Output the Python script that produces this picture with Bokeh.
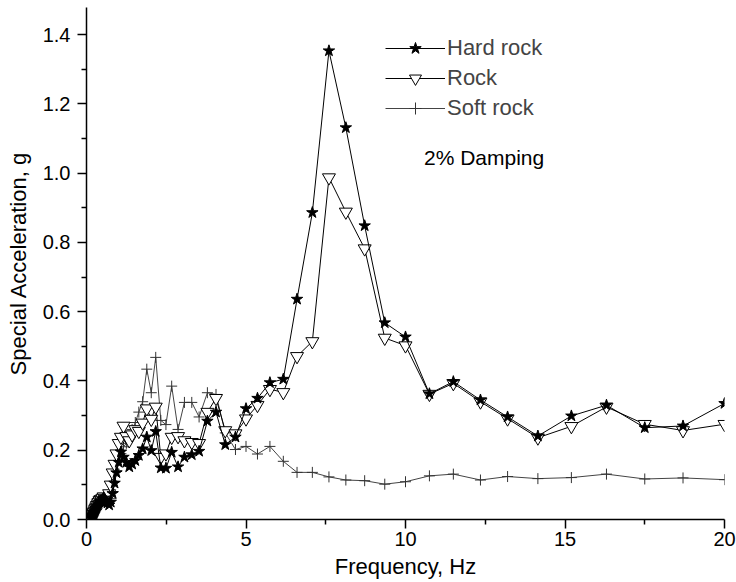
from bokeh.plotting import figure
from bokeh.models import Range1d, FixedTicker, PrintfTickFormatter, Legend, LegendItem, Label
from bokeh.embed import file_html
from bokeh.resources import INLINE

freq = [0.15, 0.16, 0.18, 0.19, 0.20, 0.22, 0.23, 0.25, 0.27, 0.29,
        0.31, 0.33, 0.36, 0.38, 0.41, 0.44, 0.47, 0.50, 0.54, 0.58,
        0.62, 0.66, 0.71, 0.76, 0.82, 0.88, 0.94, 1.01, 1.08, 1.16,
        1.25, 1.34, 1.43, 1.53, 1.64, 1.76, 1.89, 2.03, 2.17, 2.33,
        2.49, 2.67, 2.87, 3.07, 3.30, 3.53, 3.79, 4.06, 4.35, 4.67,
        5.00, 5.36, 5.75, 6.17, 6.60, 7.08, 7.60, 8.13, 8.72, 9.35,
        10.00, 10.75, 11.50, 12.35, 13.20, 14.15, 15.20, 16.30, 17.50, 18.70,
        20.00]

hard_rock = [0.004, 0.006, 0.008, 0.010, 0.012, 0.016, 0.019, 0.022, 0.026, 0.030,
             0.034, 0.038, 0.042, 0.046, 0.050, 0.054, 0.052, 0.058, 0.062, 0.057,
             0.052, 0.048, 0.042, 0.050, 0.075, 0.105, 0.135, 0.165, 0.195, 0.180,
             0.165, 0.152, 0.160, 0.170, 0.185, 0.204, 0.238, 0.199, 0.254, 0.149,
             0.148, 0.194, 0.152, 0.180, 0.187, 0.197, 0.284, 0.310, 0.216, 0.238,
             0.320, 0.350, 0.395, 0.405, 0.636, 0.886, 1.353, 1.131, 0.848, 0.568,
             0.527, 0.363, 0.398, 0.345, 0.296, 0.241, 0.299, 0.330, 0.265, 0.270,
             0.335]

rock = [0.004, 0.006, 0.009, 0.011, 0.014, 0.018, 0.021, 0.025, 0.029, 0.033,
        0.037, 0.041, 0.046, 0.050, 0.055, 0.058, 0.056, 0.062, 0.066, 0.062,
        0.058, 0.060, 0.075, 0.100, 0.135, 0.160, 0.190, 0.220, 0.238, 0.270,
        0.240, 0.228, 0.245, 0.260, 0.255, 0.279, 0.320, 0.290, 0.325, 0.180,
        0.190, 0.238, 0.240, 0.228, 0.223, 0.220, 0.310, 0.350, 0.257, 0.248,
        0.291, 0.330, 0.376, 0.367, 0.471, 0.514, 0.987, 0.888, 0.782, 0.524,
        0.502, 0.362, 0.393, 0.340, 0.291, 0.236, 0.269, 0.325, 0.275, 0.257,
        0.275]

soft_rock = [0.004, 0.006, 0.008, 0.010, 0.013, 0.017, 0.020, 0.024, 0.028, 0.031,
             0.035, 0.039, 0.044, 0.048, 0.052, 0.055, 0.053, 0.059, 0.063, 0.058,
             0.054, 0.052, 0.055, 0.060, 0.080, 0.110, 0.140, 0.170, 0.190, 0.210,
             0.220, 0.240, 0.260, 0.280, 0.310, 0.340, 0.434, 0.366, 0.468, 0.286,
             0.274, 0.385, 0.260, 0.338, 0.338, 0.296, 0.366, 0.361, 0.250, 0.202,
             0.211, 0.189, 0.211, 0.168, 0.136, 0.136, 0.123, 0.114, 0.112, 0.102,
             0.109, 0.126, 0.131, 0.114, 0.124, 0.118, 0.121, 0.131, 0.117, 0.120,
             0.115]

x_ticks = [0, 5, 10, 15, 20]
x_minor = [2.5, 7.5, 12.5, 17.5]
y_ticks = [0.0, 0.2, 0.4, 0.6, 0.8, 1.0, 1.2, 1.4]
y_minor = [0.1, 0.3, 0.5, 0.7, 0.9, 1.1, 1.3]

FONT = "Liberation Sans"

p = figure(width=736, height=582, output_backend="svg", toolbar_location=None,
           x_range=Range1d(0, 20), y_range=Range1d(0, 1.478),
           min_border_left=86, min_border_right=12, min_border_top=7, min_border_bottom=63)
p.outline_line_color = None
p.xgrid.visible = False
p.ygrid.visible = False
p.background_fill_color = "white"

l_soft = p.line(freq, soft_rock, line_color="#444444", line_width=1)
s_soft = p.scatter(freq, soft_rock, marker="cross", size=11, line_color="#333333", line_width=1)
l_rock = p.line(freq, rock, line_color="black", line_width=1)
s_rock = p.scatter(freq, rock, marker="inverted_triangle", size=13, fill_color="white",
                   line_color="black", line_width=1)
l_hard = p.line(freq, hard_rock, line_color="black", line_width=1)
s_hard = p.scatter(freq, hard_rock, marker="star", size=12, fill_color="black",
                   line_color="black", line_width=1)

for ax in (p.xaxis[0], p.yaxis[0]):
    ax.axis_line_width = 1.5
    ax.major_tick_line_width = 1.5
    ax.minor_tick_line_width = 1.5
    ax.major_tick_in = 0
    ax.major_tick_out = 9
    ax.minor_tick_in = 0
    ax.minor_tick_out = 5
    ax.major_label_text_font = FONT
    ax.major_label_text_font_size = "20px"
    ax.major_label_text_color = "black"
    ax.axis_label_text_font = FONT
    ax.axis_label_text_font_size = "22px"
    ax.axis_label_text_font_style = "normal"
    ax.axis_label_text_color = "black"

p.xaxis.ticker = FixedTicker(ticks=x_ticks, minor_ticks=x_minor)
p.yaxis.ticker = FixedTicker(ticks=y_ticks, minor_ticks=y_minor)
p.yaxis.formatter = PrintfTickFormatter(format="%.1f")
p.xaxis.axis_label = "Frequency, Hz"
p.yaxis.axis_label = "Special Acceleration, g"
p.xaxis.major_label_standoff = 3
p.yaxis.major_label_standoff = 7
p.xaxis.axis_label_standoff = 5
p.yaxis.axis_label_standoff = 9

legend = Legend(items=[LegendItem(label="Hard rock", renderers=[l_hard, s_hard]),
                       LegendItem(label="Rock", renderers=[l_rock, s_rock]),
                       LegendItem(label="Soft rock", renderers=[l_soft, s_soft])],
                location=(299, 396))
legend.border_line_color = None
legend.background_fill_alpha = 0
legend.padding = 0
legend.margin = 0
legend.spacing = 0
legend.glyph_width = 60
legend.glyph_height = 30
legend.label_height = 30
legend.label_standoff = 2
legend.label_text_font = FONT
legend.label_text_font_size = "22px"
p.add_layout(legend)

p.add_layout(Label(x=10.58, y=1.045, text="2% Damping", text_baseline="middle",
                   text_font=FONT, text_font_size="21px", text_color="black"))

open("out.html", "w").write(file_html(p, INLINE))
